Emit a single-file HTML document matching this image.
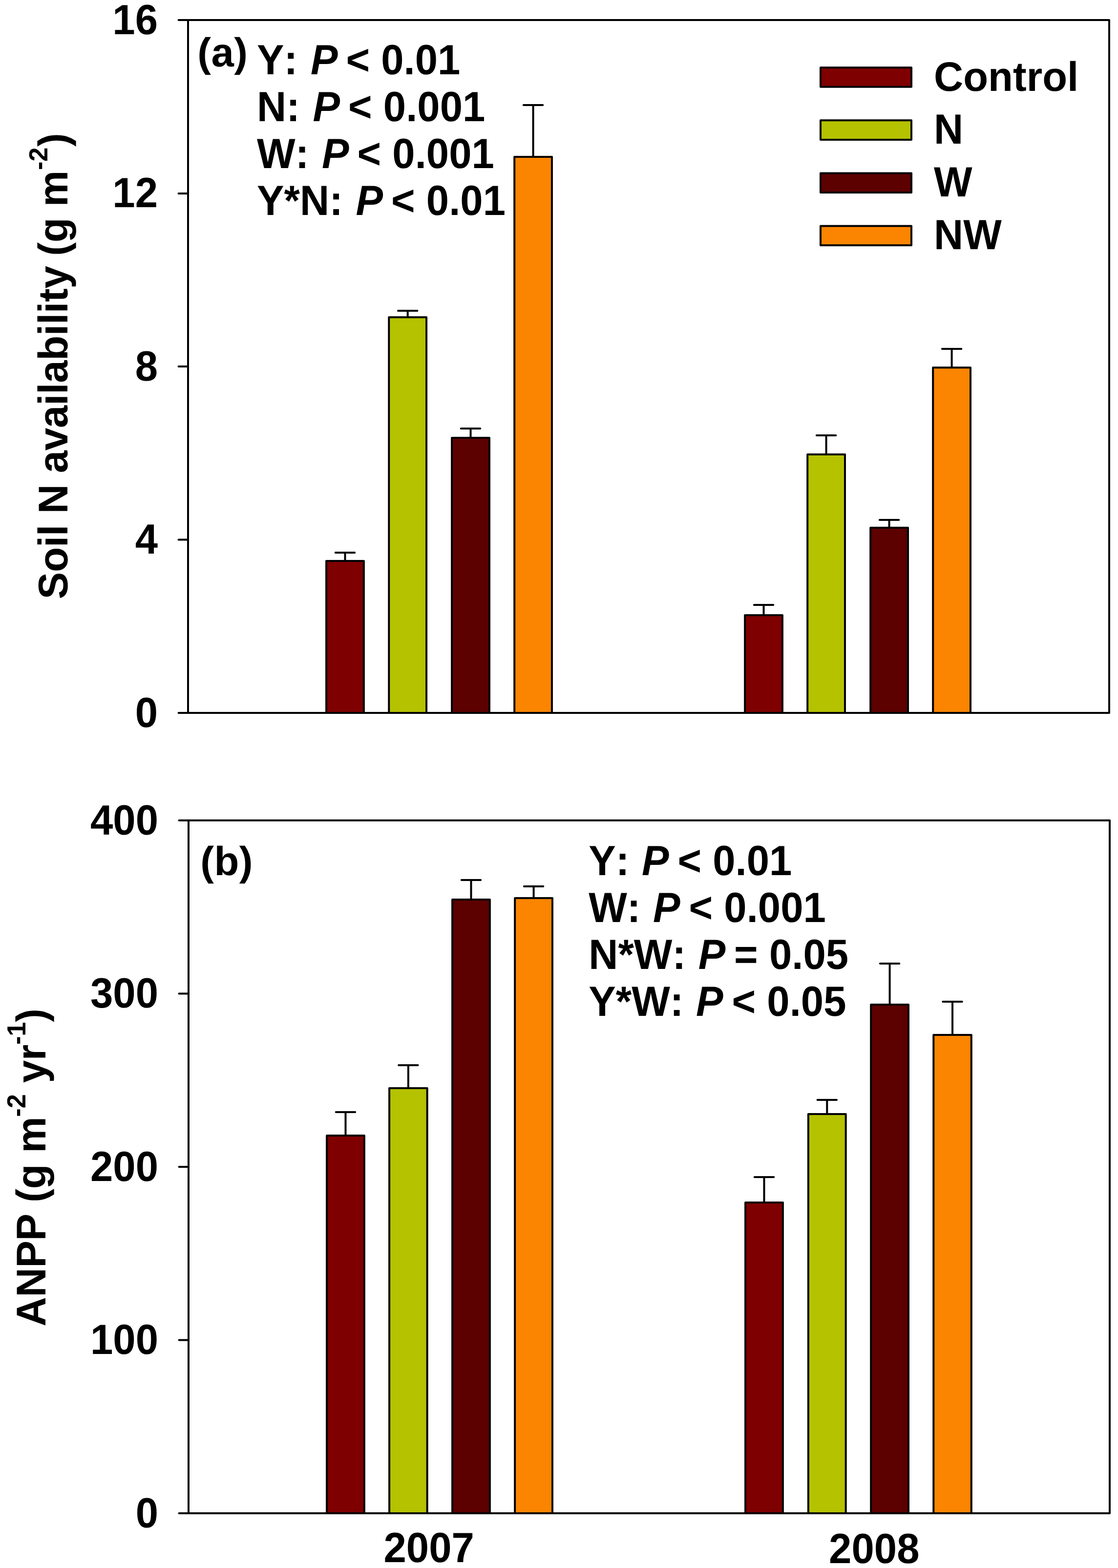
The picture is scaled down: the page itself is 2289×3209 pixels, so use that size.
<!DOCTYPE html>
<html lang="en"><head><meta charset="utf-8"><title>Soil N availability and ANPP, 2007-2008</title>
<style>
html,body{margin:0;padding:0;background:#fff}
body{width:2289px;height:3209px;overflow:hidden}
svg{display:block}
text{font-family:"Liberation Sans", Arial, Helvetica, sans-serif;font-weight:700;font-size:83.33px;fill:#000;white-space:pre;font-kerning:none;font-variant-ligatures:none;text-rendering:geometricPrecision}
.i{font-style:italic}
.sup{font-size:52.5px}
.ln{stroke:#000;stroke-width:4;fill:none;stroke-linecap:butt}
.bx{stroke:#000;stroke-width:4;stroke-linejoin:miter}
.rj{stroke-linejoin:round}
.rc{stroke-linecap:round}
</style></head><body>
<svg width="2289" height="3209" viewBox="0 0 2289 3209">
<rect width="2289" height="3209" fill="#fff"/>
<g id="panel-a">
<path d="M706.50 1148.00V1131.00M686.80 1131.00H726.20" class="ln rc"/>
<rect x="668.10" y="1148.00" width="76.80" height="311.00" fill="#7f0000" class="bx rj"/>
<path d="M834.70 649.20V636.00M815.00 636.00H854.40" class="ln rc"/>
<rect x="796.30" y="649.20" width="76.80" height="809.80" fill="#b5c200" class="bx rj"/>
<path d="M963.55 896.00V877.00M943.85 877.00H983.25" class="ln rc"/>
<rect x="925.15" y="896.00" width="76.80" height="563.00" fill="#5c0000" class="bx rj"/>
<path d="M1091.60 321.00V215.00M1071.90 215.00H1111.30" class="ln rc"/>
<rect x="1053.20" y="321.00" width="76.80" height="1138.00" fill="#fb8500" class="bx rj"/>
<path d="M1563.55 1259.00V1238.00M1543.85 1238.00H1583.25" class="ln rc"/>
<rect x="1525.15" y="1259.00" width="76.80" height="200.00" fill="#7f0000" class="bx rj"/>
<path d="M1691.60 930.00V891.00M1671.90 891.00H1711.30" class="ln rc"/>
<rect x="1653.20" y="930.00" width="76.80" height="529.00" fill="#b5c200" class="bx rj"/>
<path d="M1820.60 1080.00V1064.00M1800.90 1064.00H1840.30" class="ln rc"/>
<rect x="1782.20" y="1080.00" width="76.80" height="379.00" fill="#5c0000" class="bx rj"/>
<path d="M1948.60 752.20V714.00M1928.90 714.00H1968.30" class="ln rc"/>
<rect x="1910.20" y="752.20" width="76.80" height="706.80" fill="#fb8500" class="bx rj"/>
<rect x="385" y="41" width="1886" height="1418" fill="none" class="bx rj"/>
<path d="M365.6 1459.00H385" class="ln rc"/>
<text transform="translate(323.00 1487.80) scale(1 1.04)" text-anchor="end">0</text>
<path d="M365.6 1104.50H385" class="ln rc"/>
<text transform="translate(323.00 1133.30) scale(1 1.04)" text-anchor="end">4</text>
<path d="M365.6 750.00H385" class="ln rc"/>
<text transform="translate(323.00 778.80) scale(1 1.04)" text-anchor="end">8</text>
<path d="M365.6 396.00H385" class="ln rc"/>
<text transform="translate(323.00 424.30) scale(1 1.04)" text-anchor="end">12</text>
<path d="M365.6 41.00H385" class="ln rc"/>
<text transform="translate(323.00 69.80) scale(1 1.04)" text-anchor="end">16</text>
<text x="404.2" y="135.7" style="letter-spacing:0.5px">(a)</text>
<text transform="translate(526.00 151.80) scale(1 1.04)" xml:space="preserve">Y: <tspan class="i" dx="3.5">P</tspan><tspan dx="-6.3"> &lt; 0.01</tspan></text>
<text transform="translate(526.00 247.90) scale(1 1.04)" xml:space="preserve">N: <tspan class="i" dx="3.5">P</tspan><tspan dx="-6.3"> &lt; 0.001</tspan></text>
<text transform="translate(526.00 344.00) scale(1 1.04)" xml:space="preserve">W: <tspan class="i" dx="3.5">P</tspan><tspan dx="-6.3"> &lt; 0.001</tspan></text>
<text transform="translate(526.00 440.10) scale(1 1.04)" xml:space="preserve">Y*N: <tspan class="i" dx="3.5">P</tspan><tspan dx="-6.3"> &lt; 0.01</tspan></text>
<rect x="1680" y="138.2" width="186" height="39.6" fill="#7f0000" class="bx rj"/>
<text transform="translate(1912.00 185.80) scale(1 1.015)">Control</text>
<rect x="1680" y="246.3" width="186" height="39.6" fill="#b5c200" class="bx rj"/>
<text transform="translate(1912.00 293.90) scale(1 1.04)">N</text>
<rect x="1680" y="354.4" width="186" height="39.6" fill="#5c0000" class="bx rj"/>
<text transform="translate(1912.00 402.00) scale(1 1.04)">W</text>
<rect x="1680" y="462.5" width="186" height="39.6" fill="#fb8500" class="bx rj"/>
<text transform="translate(1912.00 510.10) scale(1 1.04)">NW</text>
<text transform="translate(138 749.3) rotate(-90) scale(1 1.02)" text-anchor="middle" style="letter-spacing:-0.19px">Soil N availability<tspan dx="-2.3"> (g</tspan><tspan dx="-0.4"> m</tspan><tspan class="sup" dy="-40.4" dx="0.9">-2</tspan><tspan dy="40.4" dx="1.8">)</tspan></text>
</g>
<g id="panel-b">
<path d="M707.50 2324.00V2276.00M687.80 2276.00H727.20" class="ln rc"/>
<rect x="669.10" y="2324.00" width="76.80" height="773.00" fill="#7f0000" class="bx rj"/>
<path d="M835.90 2227.00V2180.00M816.20 2180.00H855.60" class="ln rc"/>
<rect x="797.10" y="2227.00" width="77.60" height="870.00" fill="#b5c200" class="bx rj"/>
<path d="M964.50 1841.00V1801.00M944.80 1801.00H984.20" class="ln rc"/>
<rect x="926.10" y="1841.00" width="76.80" height="1256.00" fill="#5c0000" class="bx rj"/>
<path d="M1092.60 1838.00V1814.00M1072.90 1814.00H1112.30" class="ln rc"/>
<rect x="1054.20" y="1838.00" width="76.80" height="1259.00" fill="#fb8500" class="bx rj"/>
<path d="M1564.50 2461.00V2409.00M1544.80 2409.00H1584.20" class="ln rc"/>
<rect x="1526.10" y="2461.00" width="76.80" height="636.00" fill="#7f0000" class="bx rj"/>
<path d="M1693.30 2280.00V2251.00M1673.60 2251.00H1713.00" class="ln rc"/>
<rect x="1654.90" y="2280.00" width="76.80" height="817.00" fill="#b5c200" class="bx rj"/>
<path d="M1821.60 2056.00V1972.00M1801.90 1972.00H1841.30" class="ln rc"/>
<rect x="1783.20" y="2056.00" width="76.80" height="1041.00" fill="#5c0000" class="bx rj"/>
<path d="M1950.05 2118.00V2050.00M1930.35 2050.00H1969.75" class="ln rc"/>
<rect x="1911.30" y="2118.00" width="77.50" height="979.00" fill="#fb8500" class="bx rj"/>
<rect x="386" y="1679" width="1886" height="1418" fill="none" class="bx rj"/>
<path d="M366.6 3097.00H386" class="ln rc"/>
<text transform="translate(324.00 3125.80) scale(1 1.04)" text-anchor="end">0</text>
<path d="M366.6 2742.50H386" class="ln rc"/>
<text transform="translate(324.00 2771.30) scale(1 1.04)" text-anchor="end">100</text>
<path d="M366.6 2388.00H386" class="ln rc"/>
<text transform="translate(324.00 2416.80) scale(1 1.04)" text-anchor="end">200</text>
<path d="M366.6 2033.50H386" class="ln rc"/>
<text transform="translate(324.00 2062.30) scale(1 1.04)" text-anchor="end">300</text>
<path d="M366.6 1679.00H386" class="ln rc"/>
<text transform="translate(324.00 1707.80) scale(1 1.04)" text-anchor="end">400</text>
<text x="410.2" y="1791" style="letter-spacing:0.5px">(b)</text>
<text transform="translate(1205.20 1791.00) scale(1 1.04)" xml:space="preserve">Y: <tspan class="i" dx="2.3">P</tspan><tspan dx="-5.3"> &lt; 0.01</tspan></text>
<text transform="translate(1205.20 1887.10) scale(1 1.04)" xml:space="preserve">W: <tspan class="i" dx="2.3">P</tspan><tspan dx="-5.3"> &lt; 0.001</tspan></text>
<text transform="translate(1205.20 1983.20) scale(1 1.04)" xml:space="preserve">N*W: <tspan class="i" dx="2.3">P</tspan><tspan dx="-5.3"> = 0.05</tspan></text>
<text transform="translate(1205.20 2079.30) scale(1 1.04)" xml:space="preserve">Y*W: <tspan class="i" dx="2.3">P</tspan><tspan dx="-5.3"> &lt; 0.05</tspan></text>
<text transform="translate(93.3 2389.3) rotate(-90) scale(1 1.02)" text-anchor="middle" style="letter-spacing:-0.19px">ANPP (g m<tspan class="sup" dy="-40.4">-2</tspan><tspan dy="40.4"> yr</tspan><tspan class="sup" dy="-40.4">-1</tspan><tspan dy="40.4">)</tspan></text>
<text transform="translate(878.20 3196.90) scale(1 1.04)" text-anchor="middle">2007</text>
<text transform="translate(1789.80 3199.00) scale(1 1.04)" text-anchor="middle">2008</text>
</g>
</svg>
</body></html>
